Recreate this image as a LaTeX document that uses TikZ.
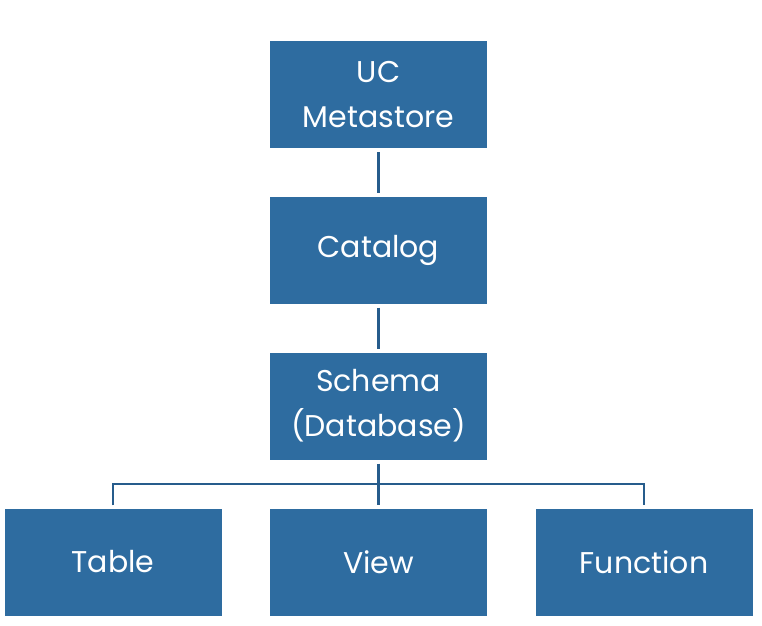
\documentclass[tikz,border=0pt]{standalone}
\usepackage{fontspec}
\setmainfont{Poppins}
\definecolor{boxblue}{RGB}{46,108,160}
\definecolor{lineblue}{RGB}{38,92,140}
\begin{document}
\begin{tikzpicture}[x=1pt,y=-1pt,
  ucbox/.style={fill=boxblue,draw=none,minimum width=217pt,minimum height=107pt,inner sep=0pt,text=white,align=center,font=\fontsize{30}{45}\selectfont},
  conn/.style={draw=lineblue,line width=2.8pt}]
\useasboundingbox (0,0) rectangle (762,625);
\node[ucbox] (uc) at (378.5,94.5) {UC\\Metastore};
\node[ucbox] (cat) at (378.5,250) {Catalog};
\node[ucbox] (sch) at (378.5,406) {Schema\\(Database)};
\node[ucbox] (tab) at (113,562) {Table};
\node[ucbox] (view) at (378.5,562) {View};
\node[ucbox] (fun) at (644,562) {Function};
\draw[conn] ([yshift=-4pt]uc.south) -- ([yshift=3pt]cat.north);
\draw[conn] ([yshift=-4pt]cat.south) -- ([yshift=3pt]sch.north);
\coordinate (hb) at (378.5,484);
\draw[conn] ([yshift=-4pt]sch.south) -- ([yshift=3pt]view.north);
\draw[conn] ([yshift=3pt]tab.north) |- (hb) -| ([yshift=3pt]fun.north);
\end{tikzpicture}
\end{document}
